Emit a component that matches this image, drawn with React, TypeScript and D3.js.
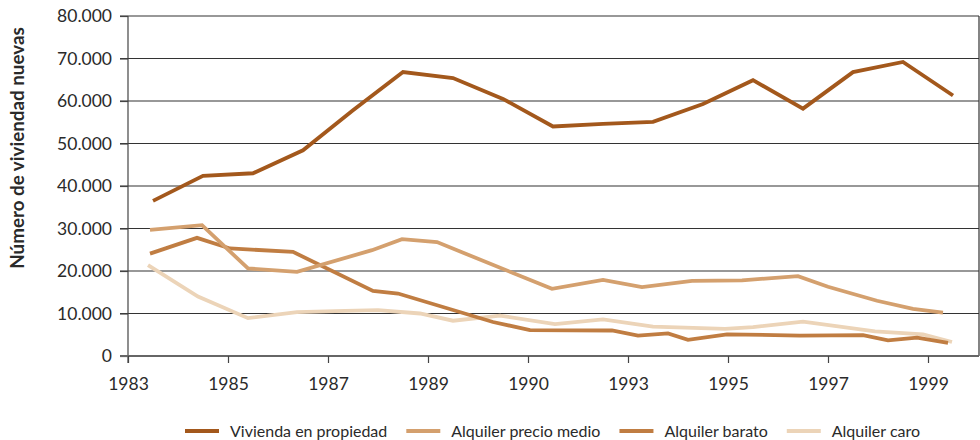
import React, { useRef, useEffect } from "react";
import { select, scaleLinear, line, axisBottom, axisLeft, formatLocale } from "d3";

// x is a period index: one unit per category, labels on every second boundary
const tickLabels = ["1983", "1985", "1987", "1989", "1990", "1993", "1995", "1997", "1999"];

const propiedadPeriodo = [0.5, 1.5, 2.5, 3.5, 4.5, 5.5, 6.5, 7.5, 8.5, 9.5, 10.5, 11.5, 12.5, 13.5, 14.5, 15.5, 16.5];
const propiedad = [36500, 42400, 43000, 48400, 57800, 66800, 65400, 60500, 54000, 54600, 55100, 59300, 64900, 58200, 66800, 69200, 61300];

const medioPeriodo = [0.44, 1.48, 2.4, 3.38, 4.88, 5.48, 6.18, 8.48, 9.5, 10.28, 11.28, 12.28, 13.4, 14.0, 14.98, 15.7, 16.3];
const medio = [29700, 30800, 20600, 19800, 24900, 27500, 26800, 15800, 17900, 16200, 17700, 17800, 18800, 16300, 13000, 11100, 10200];

const baratoPeriodo = [0.44, 1.38, 2.04, 3.3, 4.9, 5.4, 7.3, 8.04, 9.68, 10.2, 10.8, 11.2, 11.98, 13.44, 14.7, 15.2, 15.78, 16.4];
const barato = [24100, 27800, 25300, 24500, 15300, 14700, 8000, 6100, 6000, 4800, 5300, 3800, 5100, 4800, 4900, 3700, 4300, 3100];

const caroPeriodo = [0.4, 1.4, 2.4, 3.38, 4.34, 5.0, 5.84, 6.5, 7.44, 8.54, 9.5, 10.5, 11.94, 12.5, 13.5, 14.94, 15.9, 16.48];
const caro = [21400, 14000, 8900, 10300, 10600, 10800, 10000, 8300, 9500, 7500, 8600, 6900, 6400, 6800, 8100, 5800, 5100, 3300];

const seriesNames = ["Vivienda en propiedad", "Alquiler precio medio", "Alquiler barato", "Alquiler caro"];
const seriesColors = ["#a3581c", "#d4a06e", "#c07d42", "#ecd4b8"];

const zip = (xs: number[], ys: number[]) => xs.map((x, i) => ({ x, y: ys[i] }));

const es = formatLocale({ decimal: ",", thousands: ".", grouping: [3], currency: ["", " €"] });
const fmt = es.format(",");

const FONT = "Lato, 'Open Sans', sans-serif";

const App = () => {
  const svgRef = useRef<SVGSVGElement>(null);

  useEffect(() => {
    const svg = select(svgRef.current);
    svg.selectAll("*").remove();

    const left = 128, right = 979, top = 16, bottom = 356;

    //scales
    const xScale = scaleLinear().domain([0, 17]).range([left, left + 850]);
    const yScale = scaleLinear().domain([0, 80000]).range([bottom, top]);

    //gridlines
    svg
      .append("g")
      .selectAll("line")
      .data(yScale.ticks(8).filter((d) => d > 0))
      .join("line")
      .attr("x1", left - 8)
      .attr("x2", right)
      .attr("y1", (d) => yScale(d))
      .attr("y2", (d) => yScale(d))
      .attr("stroke", "#333")
      .attr("stroke-width", 1.2);

    //right border
    svg
      .append("line")
      .attr("x1", right)
      .attr("x2", right)
      .attr("y1", top)
      .attr("y2", bottom)
      .attr("stroke", "#333")
      .attr("stroke-width", 1.2);

    //y axis
    const yAxis = axisLeft(yScale).ticks(8).tickSize(8).tickSizeOuter(0).tickPadding(8).tickFormat((d) => fmt(d as number));
    const gy = svg.append("g").attr("transform", `translate(${left},0)`).call(yAxis);
    gy.select(".domain").attr("stroke", "#444").attr("stroke-width", 1.2).attr("d", `M0,${top}V${bottom + 7}`);
    gy.selectAll(".tick line").attr("stroke", "#444").attr("stroke-width", 1.2);
    gy.selectAll("text").attr("font-family", FONT).attr("font-size", 17.5).attr("fill", "#2a2a2a");

    //x axis
    const xAxis = axisBottom(xScale)
      .tickValues(tickLabels.map((_, i) => i * 2))
      .tickSize(7)
      .tickSizeOuter(0)
      .tickPadding(15)
      .tickFormat((d) => tickLabels[(d as number) / 2]);
    const gx = svg.append("g").attr("transform", `translate(0,${bottom})`).call(xAxis);
    gx.select(".domain").attr("stroke", "#666").attr("stroke-width", 2).attr("d", `M${left - 8},0H${right}`);
    gx.selectAll(".tick line").attr("stroke", "#444").attr("stroke-width", 1.2);
    gx.selectAll("text").attr("font-family", FONT).attr("font-size", 17.5).attr("fill", "#2a2a2a");

    //axis title
    svg
      .append("text")
      .attr("transform", `translate(24,148) rotate(-90)`)
      .attr("text-anchor", "middle")
      .attr("font-family", FONT)
      .attr("font-weight", "bold")
      .attr("font-size", 18.8)
      .attr("fill", "#2a2a2a")
      .text("Número de viviendad nuevas");

    //lines
    const myLine = line<{ x: number; y: number }>()
      .x((d) => xScale(d.x))
      .y((d) => yScale(d.y));

    const allSeries = [
      zip(propiedadPeriodo, propiedad),
      zip(medioPeriodo, medio),
      zip(baratoPeriodo, barato),
      zip(caroPeriodo, caro),
    ];
    const drawOrder = [3, 2, 1, 0];

    svg
      .append("g")
      .selectAll("path")
      .data(drawOrder)
      .join("path")
      .attr("d", (i) => myLine(allSeries[i]))
      .attr("fill", "none")
      .attr("stroke", (i) => seriesColors[i])
      .attr("stroke-width", 3.8)
      .attr("stroke-linejoin", "miter");

    //legend
    const legend = svg.append("g").attr("transform", "translate(185,431)");
    let lx = 0;
    seriesNames.forEach((name, i) => {
      const item = legend.append("g").attr("transform", `translate(${lx},0)`);
      item
        .append("line")
        .attr("x1", 0)
        .attr("x2", 34)
        .attr("stroke", seriesColors[i])
        .attr("stroke-width", 4);
      const t = item
        .append("text")
        .attr("x", 45)
        .attr("y", 5.5)
        .attr("font-family", FONT)
        .attr("font-size", 16)
        .attr("fill", "#2a2a2a")
        .text(name);
      const w = (t.node() as SVGTextElement).getComputedTextLength();
      lx += 45 + w + 19;
    });
  }, []);

  return (
    <svg
      ref={svgRef}
      width={980}
      height={440}
      style={{ position: "absolute", left: 0, top: 0, background: "#fff" }}
    />
  );
};

export default App;
